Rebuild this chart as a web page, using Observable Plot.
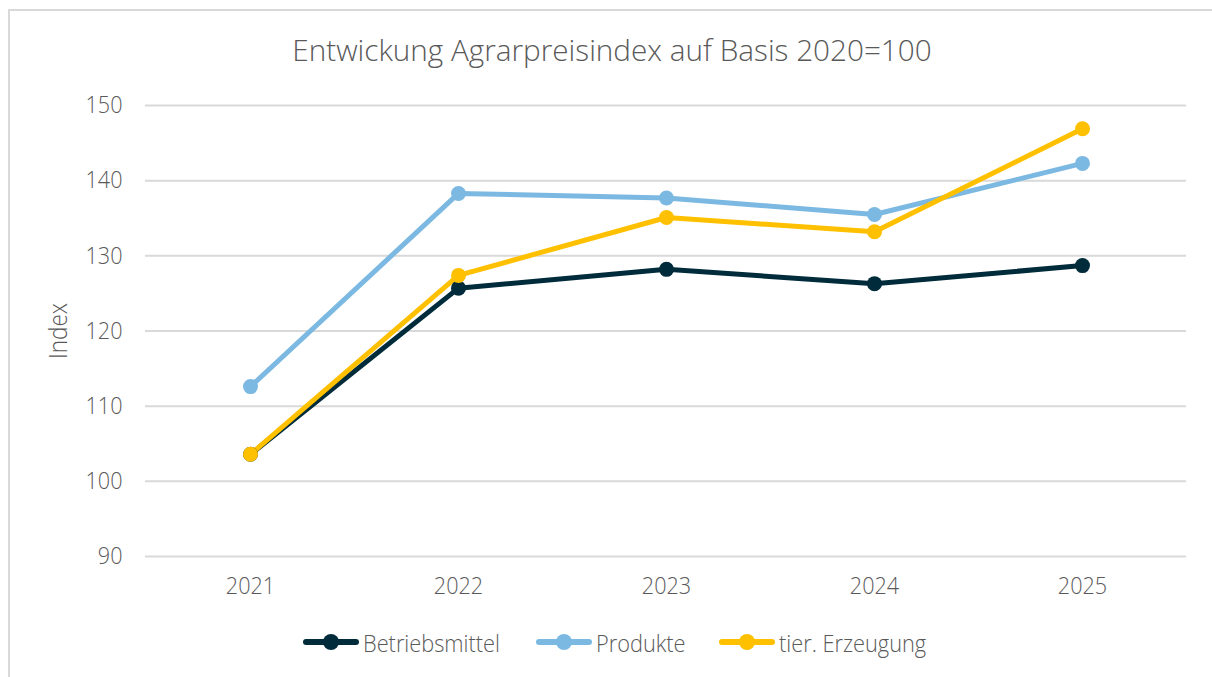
<!DOCTYPE html>
<html>
<head>
<meta charset="utf-8">
<script src="https://cdn.jsdelivr.net/npm/d3@7"></script>
<script src="https://cdn.jsdelivr.net/npm/@observablehq/plot@0.6"></script>
<style>
  html, body { margin: 0; padding: 0; background: #fff; }
  body { width: 1212px; height: 677px; overflow: hidden; position: relative; font-family: "Open Sans", "Noto Sans", sans-serif; }
  #frame { position: absolute; left: 8px; top: 9px; width: 1210px; height: 680px; border-left: 2px solid #d9d9d9; border-top: 2px solid #d9d9d9; }
  #title { position: absolute; left: 0; top: 0; width: 1224px; height: 80px; text-align: center; font-size: 29.7px; font-weight: 300; color: #595959; line-height: 100px; }
  #chart { position: absolute; left: 0; top: 80px; }
  #legend { position: absolute; left: 0; top: 622px; width: 1212px; height: 40px; }
  .li { position: absolute; top: 0; display: flex; align-items: center; font-size: 24px; font-weight: 300; color: #595959; height: 40px; }
  .li svg { margin-right: 4px; flex: none; }
  .li span { display: inline-block; transform: scaleX(0.907); transform-origin: left center; white-space: nowrap; }
</style>
</head>
<body>
<div id="frame"></div>
<div id="title">Entwickung Agrarpreisindex auf Basis 2020=100</div>
<div id="chart"></div>
<div id="legend"></div>
<script>
const years = ["2021", "2022", "2023", "2024", "2025"];
const seriesNames = ["Betriebsmittel", "Produkte", "tier. Erzeugung"];
const betriebsmittel = [103.6, 125.7, 128.2, 126.3, 128.7];
const produkte = [112.6, 138.3, 137.7, 135.5, 142.3];
const tierErzeugung = [103.6, 127.4, 135.1, 133.2, 146.9];
const colors = ["#002b3a", "#7cb9e2", "#ffc000"];
const yTicks = [90, 100, 110, 120, 130, 140, 150];

const seriesValues = [betriebsmittel, produkte, tierErzeugung];
const data = [];
seriesNames.forEach((s, i) => years.forEach((y, j) => data.push({series: s, year: y, value: seriesValues[i][j]})));

const font = '"Open Sans", "Noto Sans", sans-serif';
const chart = Plot.plot({
  width: 1212,
  height: 530,
  marginLeft: 145,
  marginRight: 26,
  marginTop: 25,
  marginBottom: 54,
  style: {fontFamily: font, fontSize: "24px", color: "#595959", fontWeight: 300, background: "transparent"},
  x: {type: "band", domain: years, padding: 0, label: null, tickSize: 0, tickPadding: 20},
  y: {domain: [90, 150], ticks: yTicks, label: null, tickSize: 0, tickPadding: 23},
  color: {domain: seriesNames, range: colors},
  marks: [
    Plot.ruleY(yTicks, {stroke: "#d9d9d9", strokeWidth: 2}),
    Plot.axisX({tickSize: 0, tickPadding: 20, label: null, fontSize: 24}),
    Plot.axisY({ticks: yTicks, tickSize: 0, tickPadding: 23, label: null, fontSize: 24}),
    Plot.text(["Index"], {frameAnchor: "left", textAnchor: "middle", dx: -87, rotate: -90, fontSize: 25, fill: "#595959"}),
    Plot.line(data, {x: "year", y: "value", z: "series", stroke: "series", strokeWidth: 5, strokeLinejoin: "round", strokeLinecap: "round"}),
    Plot.dot(data, {x: "year", y: "value", fill: "series", r: 7.5})
  ]
});
// slightly condense the text glyphs horizontally (around each label's anchor)
chart.querySelectorAll("text").forEach(t => {
  const tr = t.getAttribute("transform") || "";
  t.setAttribute("transform", (tr + " scale(0.9,1)").trim());
});
document.getElementById("chart").appendChild(chart);

const legendPos = [303, 536, 719];
const legend = document.getElementById("legend");
seriesNames.forEach((s, i) => {
  const el = document.createElement("div");
  el.className = "li";
  el.style.left = legendPos[i] + "px";
  el.innerHTML = `<svg width="56" height="20"><line x1="3" y1="10" x2="53" y2="10" stroke="${colors[i]}" stroke-width="6" stroke-linecap="round"/><circle cx="28" cy="10" r="8" fill="${colors[i]}"/></svg><span>${s}</span>`;
  legend.appendChild(el);
});
</script>
</body>
</html>
